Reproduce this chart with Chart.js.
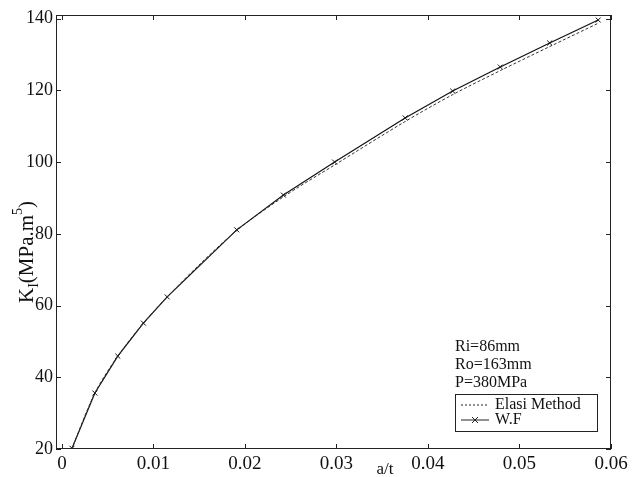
<!DOCTYPE html>
<html>
<head>
<meta charset="utf-8">
<script src="https://cdn.jsdelivr.net/npm/chart.js@4/dist/chart.umd.min.js"></script>
<style>
html,body{margin:0;padding:0;background:#fff;}
#wrap{width:638px;height:477px;}
</style>
</head>
<body>
<div id="wrap"><canvas id="chart" width="638" height="477"></canvas></div>
<script>

// data
const xWF = [0.0011,0.0036,0.0061,0.0089,0.0115,0.0191,0.0242,0.0298,0.0375,0.0427,0.0479,0.0533,0.0586];
const kWF = [20.2,35.6,45.9,55.1,62.4,81.1,90.8,100.0,112.3,119.8,126.5,133.2,139.6];

const xElasi = [0.0011,0.0036,0.0061,0.0089,0.0115,0.0151,0.0191,0.0242,0.0298,0.0375,0.0427,0.0479,0.0533,0.0586];
const kElasi = [20.2,35.6,45.9,55.1,62.4,71.6,80.9,90.3,99.2,111.3,118.8,125.5,132.2,138.7];

const xTicks = [0,0.01,0.02,0.03,0.04,0.05,0.06];
const yTicks = [20,40,60,80,100,120,140];

const notes = ['Ri=86mm','Ro=163mm','P=380MPa'];
const names = ['Elasi Method','W.F'];

const serif = "'Liberation Serif','Times New Roman',serif";

function pts(xs,ys){ return xs.map((x,i)=>({x:x,y:ys[i]})); }

// frame, inward ticks, notes, legend, axis titles
const extras = {
id:'extras',
afterDraw(chart){
const c = chart.ctx;
const a = chart.chartArea;
const xs = chart.scales.x, ys = chart.scales.y;
c.save();
c.strokeStyle = '#222';
c.lineWidth = 1;
c.strokeRect(a.left+0.5,a.top+0.5,a.right-a.left-1,a.bottom-a.top-1);

c.beginPath();
xTicks.forEach(v=>{
const px = Math.round(xs.getPixelForValue(v))+0.5;
c.moveTo(px,a.bottom); c.lineTo(px,a.bottom-5);
c.moveTo(px,a.top); c.lineTo(px,a.top+5);
});
yTicks.forEach(v=>{
const py = Math.round(ys.getPixelForValue(v))+0.5;
c.moveTo(a.left,py); c.lineTo(a.left+5,py);
c.moveTo(a.right,py); c.lineTo(a.right-5,py);
});
c.stroke();

// notes
c.fillStyle = '#111';
c.font = '16px '+serif;
c.textBaseline = 'middle';
c.textAlign = 'left';
notes.forEach((t,i)=>c.fillText(t,455,347+i*18));

// legend box
c.strokeRect(455.5,394.5,142,37);
c.beginPath();
c.setLineDash([2,2]);
c.moveTo(461,405); c.lineTo(489,405);
c.stroke();
c.setLineDash([]);
c.beginPath();
c.moveTo(461,420); c.lineTo(489,420);
c.moveTo(472,417); c.lineTo(478,423);
c.moveTo(478,417); c.lineTo(472,423);
c.stroke();
c.fillText(names[0],495,405);
c.fillText(names[1],495,420);

// x title
c.textAlign = 'center';
c.font = '17px '+serif;
c.fillText('a/t',xs.getPixelForValue(0.0353),470);

// y title with sub and superscript
c.translate(33,252);
c.rotate(-Math.PI/2);
c.textAlign = 'left';
c.textBaseline = 'alphabetic';
const big = '21px '+serif, small = '14px '+serif;
const parts = [['K',big,0],['I',small,5],['(MPa.m',big,0],['5',small,-11],[')',big,0]];
let w = 0;
parts.forEach(p=>{c.font=p[1]; w+=c.measureText(p[0]).width;});
let x0 = -w/2;
parts.forEach(p=>{c.font=p[1]; c.fillText(p[0],x0,p[2]); x0+=c.measureText(p[0]).width;});
c.restore();
}
};

const ctx = document.getElementById('chart').getContext('2d');

const chart = new Chart(ctx,{
type:'scatter',
data:{
datasets:[{
label:names[0],
data:pts(xElasi,kElasi),
showLine:true,
borderColor:'#333',
borderWidth:1,
borderDash:[3,2],
pointRadius:0,
fill:false,
tension:0.3
},{
label:names[1],
data:pts(xWF,kWF),
showLine:true,
borderColor:'#111',
borderWidth:1.2,
pointStyle:'crossRot',
pointRadius:3.5,
pointBorderColor:'#111',
pointBorderWidth:1,
fill:false,
tension:0
}]
},
options:{
responsive:false,
animation:false,
layout:{padding:{left:0,right:27,top:15,bottom:0}},
plugins:{legend:{display:false},tooltip:{enabled:false}},
scales:{
x:{
type:'linear',min:-0.00065,max:0.06,
afterBuildTicks(s){ s.ticks = xTicks.map(v=>({value:v})); },
afterFit(s){ s.height = 28; },
grid:{display:false,drawTicks:false},
border:{display:false},
ticks:{color:'#111',padding:4,maxRotation:0,font:{family:serif,size:19},
callback:v=>v===0?'0':v.toFixed(2)}
},
y:{
min:20,max:141,
afterBuildTicks(s){ s.ticks = yTicks.map(v=>({value:v})); },
afterFit(s){ s.width = 56; },
grid:{display:false,drawTicks:false},
border:{display:false},
ticks:{color:'#111',padding:3,font:{family:serif,size:18}}
}
}
},
plugins:[extras]
});

</script>
</body>
</html>
